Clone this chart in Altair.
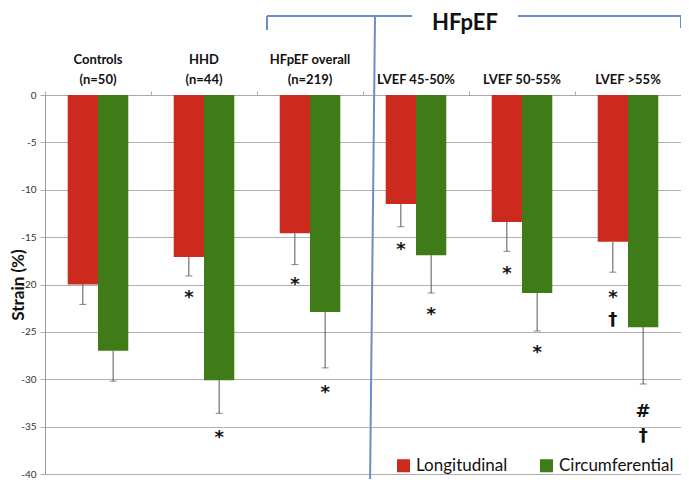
import altair as alt
import pandas as pd

groups = ["Controls (n=50)", "HHD (n=44)", "HFpEF overall (n=219)",
          "LVEF 45-50%", "LVEF 50-55%", "LVEF >55%"]
label_top = ["Controls", "HHD", "HFpEF overall", "", "", ""]
label_bottom = ["(n=50)", "(n=44)", "(n=219)", "LVEF 45-50%", "LVEF 50-55%", "LVEF >55%"]
series = ["Longitudinal", "Circumferential"]
long_mean = [-20.0, -17.1, -14.6, -11.5, -13.4, -15.5]
long_low = [-22.1, -19.1, -17.9, -13.9, -16.5, -18.7]
circ_mean = [-27.0, -30.1, -22.9, -16.9, -20.9, -24.5]
circ_low = [-30.2, -33.6, -28.8, -20.9, -24.9, -30.5]

ann_group = [1, 1, 2, 2, 3, 3, 4, 4, 5, 5, 5, 5]
ann_series = ["Longitudinal", "Circumferential"] * 4 + ["Longitudinal", "Longitudinal", "Circumferential", "Circumferential"]
ann_y = [-21.0, -35.8, -19.6, -31.0, -15.9, -22.8, -18.5, -26.8, -21.0, -23.3, -33.0, -35.6]
ann_sym = ["*", "*", "*", "*", "*", "*", "*", "*", "*", "\u2020", "#", "\u2020"]

colors = ["#CC2A1F", "#3F7C17"]
blue = "#6C8DC8"

rows = []
for i, g in enumerate(groups):
    rows.append({"group": g, "series": series[0], "value": long_mean[i], "low": long_low[i]})
    rows.append({"group": g, "series": series[1], "value": circ_mean[i], "low": circ_low[i]})
df = pd.DataFrame(rows)
ann = pd.DataFrame({"group": [groups[i] for i in ann_group], "series": ann_series,
                    "y": ann_y, "sym": ann_sym})
labels = pd.DataFrame({"group": groups, "top": label_top, "bottom": label_bottom})

W, H = 636, 379
FONT = "Lato"

xscale = alt.Scale(domain=groups, paddingInner=0, paddingOuter=0)
xoff = alt.Scale(domain=series, paddingInner=0, paddingOuter=0.75)
yscale = alt.Scale(domain=[-40, 0], nice=False)

x_enc = alt.X("group:N", scale=xscale, sort=groups,
              axis=alt.Axis(orient="top", title=None, labels=False, tickBand="extent",
                            tickSize=4, tickColor="#aaa", domainColor="#aaa"))
xo_enc = alt.XOffset("series:N", scale=xoff, sort=series)
x_plain = alt.X("group:N", scale=xscale, sort=groups)

bars = alt.Chart(df).mark_bar().encode(
    x=x_enc,
    xOffset=xo_enc,
    y=alt.Y("value:Q", scale=yscale,
            axis=alt.Axis(values=list(range(-40, 1, 5)), labelExpr="datum.value + ''",
                          title="Strain (%)", titleFont=FONT, titleFontSize=17,
                          titleFontWeight="bold", titleColor="#111", titleAngle=270,
                          titleX=-27, titleY=H / 2, titleAlign="center", titleBaseline="middle",
                          labelFont=FONT, labelFontSize=10, labelColor="#333",
                          tickSize=5, tickColor="#aaa", domainColor="#999",
                          gridColor="#b0b0b0", labelPadding=4)),
    color=alt.Color("series:N", scale=alt.Scale(domain=series, range=colors),
                    legend=alt.Legend(title=None, orient="none", legendX=350, legendY=362,
                                      direction="horizontal", symbolType="square",
                                      symbolSize=170, symbolStrokeWidth=0, symbolOpacity=1,
                                      labelFont=FONT, labelFontSize=17, labelColor="#111",
                                      columnPadding=30, labelOffset=4, padding=0)),
)

errs = alt.Chart(df).mark_rule(color="#555", strokeWidth=1).encode(
    x=x_plain, xOffset=xo_enc,
    y=alt.Y("value:Q", scale=yscale), y2="low:Q")
caps = alt.Chart(df).mark_tick(color="#555", thickness=1, size=7).encode(
    x=x_plain, xOffset=xo_enc,
    y=alt.Y("low:Q", scale=yscale))

marks = alt.Chart(ann).mark_text(font="DejaVu Sans", fontSize=18, fontWeight="bold",
                                 color="#111", baseline="middle", dy=4).encode(
    x=x_plain, xOffset=xo_enc,
    y=alt.Y("y:Q", scale=yscale), text="sym:N")

lab_style = dict(font=FONT, fontSize=13, fontWeight="bold", color="#111",
                 baseline="middle", align="center")
lab_top = alt.Chart(labels).mark_text(**lab_style).encode(
    x=x_plain, y=alt.value(-35), text="top:N")
lab_bot = alt.Chart(labels).mark_text(**lab_style).encode(
    x=x_plain, y=alt.value(-15), text="bottom:N")

one = pd.DataFrame({"a": [0]})
def seg(x1, y1, x2, y2):
    return alt.Chart(one).mark_rule(color=blue, strokeWidth=2).encode(
        x=alt.value(x1), y=alt.value(y1), x2=alt.value(x2), y2=alt.value(y2))

bracket = [
    seg(222, -79, 222, -65),
    seg(222, -79, 367, -79),
    seg(473, -79, 636, -79),
    seg(636, -79, 636, -67),
    seg(330, -79, 325, 392),
]
title = alt.Chart(one).mark_text(font=FONT, fontSize=22, fontWeight="bold", color="#111",
                                 baseline="middle", align="center").encode(
    x=alt.value(420), y=alt.value(-72), text=alt.value("HFpEF"))

chart = alt.layer(bars, errs, caps, marks, lab_top, lab_bot, *bracket, title).properties(
    width=W, height=H,
    autosize=alt.AutoSizeParams(type="none"),
    padding={"left": 37, "top": 87, "right": 0, "bottom": 5},
).configure_view(stroke=None)

chart.save("out.html", embed_options={"renderer": "svg", "actions": False})
